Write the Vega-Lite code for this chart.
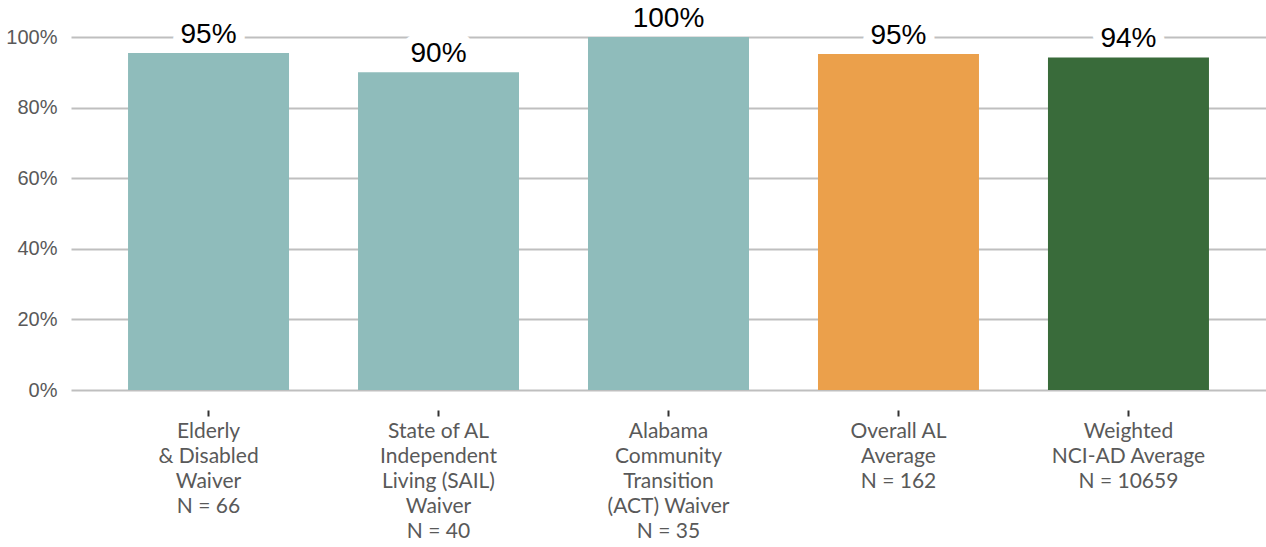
{
  "$schema": "https://vega.github.io/schema/vega-lite/v6.json",
  "width": 1195,
  "height": 353,
  "autosize": {"type": "none"},
  "padding": {"left": 71, "top": 37, "right": 0, "bottom": 157},
  "background": "white",
  "config": {"view": {"stroke": null}},
  "data": {
    "values": [
      {"group": "Elderly|& Disabled|Waiver|N = 66", "value": 0.955, "label": "95%", "kind": "a"},
      {"group": "State of AL|Independent|Living (SAIL)|Waiver|N = 40", "value": 0.90, "label": "90%", "kind": "a"},
      {"group": "Alabama|Community|Transition|(ACT) Waiver|N = 35", "value": 1.0, "label": "100%", "kind": "a"},
      {"group": "Overall AL|Average|N = 162", "value": 0.952, "label": "95%", "kind": "b"},
      {"group": "Weighted|NCI-AD Average|N = 10659", "value": 0.942, "label": "94%", "kind": "c"}
    ]
  },
  "encoding": {
    "x": {
      "field": "group",
      "type": "nominal",
      "sort": null,
      "scale": {"paddingInner": 0.3, "paddingOuter": 0.248},
      "axis": {
        "title": null,
        "labelAngle": 0,
        "labelExpr": "split(datum.label, '|')",
        "labelFont": "Lato",
        "labelFontSize": 21,
        "labelLineHeight": 25,
        "labelColor": "#595959",
        "labelPadding": 4,
        "labelBaseline": "top",
        "domain": false,
        "ticks": true,
        "tickSize": 6,
        "tickColor": "#333333",
        "tickWidth": 2,
        "offset": 20,
        "grid": false
      }
    },
    "y": {
      "field": "value",
      "type": "quantitative",
      "scale": {"domain": [0, 1], "nice": false},
      "axis": {
        "title": null,
        "format": ".0%",
        "values": [0, 0.2, 0.4, 0.6, 0.8, 1.0],
        "labelFont": "Liberation Sans",
        "labelFontSize": 20,
        "labelColor": "#595959",
        "labelPadding": 14,
        "ticks": false,
        "domain": false,
        "grid": true,
        "gridColor": "#BFBFBF",
        "gridWidth": 2
      }
    }
  },
  "layer": [
    {
      "mark": {"type": "bar"},
      "encoding": {
        "color": {
          "field": "kind",
          "type": "nominal",
          "scale": {"domain": ["a", "b", "c"], "range": ["#8FBCBB", "#EBA04B", "#396B3A"]},
          "legend": null
        }
      }
    },
    {
      "mark": {"type": "text", "font": "Liberation Sans", "fontSize": 28, "baseline": "alphabetic", "dy": -10, "stroke": "white", "strokeWidth": 18, "strokeJoin": "round", "fill": "white"},
      "encoding": {"text": {"field": "label"}}
    },
    {
      "mark": {"type": "text", "font": "Liberation Sans", "fontSize": 28, "baseline": "alphabetic", "dy": -10, "color": "black"},
      "encoding": {"text": {"field": "label"}}
    }
  ]
}
